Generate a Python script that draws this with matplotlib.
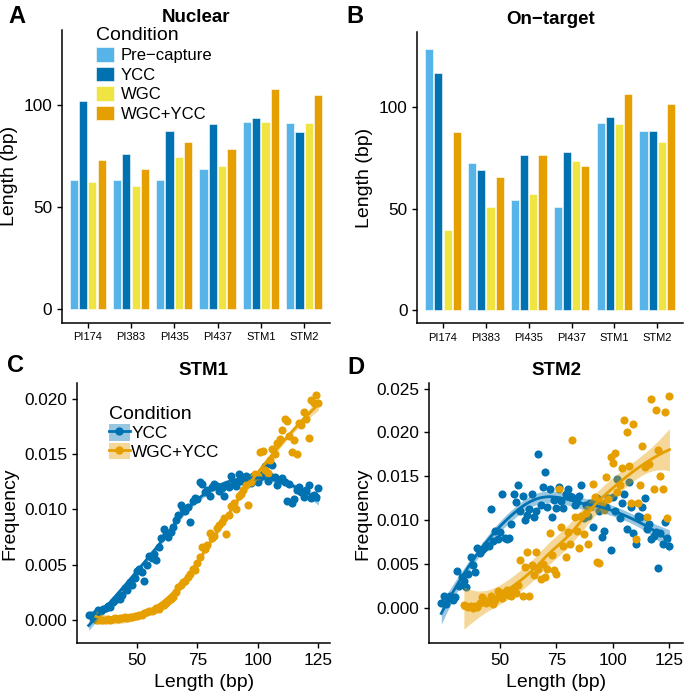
import numpy as np
import matplotlib
matplotlib.use('Agg')
import matplotlib.pyplot as plt
from matplotlib.patches import Patch
from matplotlib.lines import Line2D

plt.rcParams['font.family'] = ['Liberation Sans', 'DejaVu Sans']

# Bar panels (A, B): mean fragment length per sample and condition
samples = ['PI174', 'PI383', 'PI435', 'PI437', 'STM1', 'STM2']
conditions = ['Pre\u2212capture', 'YCC', 'WGC', 'WGC+YCC']
cond_colors = ['#56B4E9', '#0072B2', '#F0E442', '#E69F00']

nuclear_pre = [63.4, 63.4, 63.4, 68.8, 91.7, 91.2]
nuclear_ycc = [102.4, 76.1, 87.5, 91.1, 94.1, 87.2]
nuclear_wgc = [62.6, 60.7, 74.8, 70.2, 91.7, 91.2]
nuclear_wgc_ycc = [73.5, 68.8, 82.0, 78.5, 108.0, 105.2]

ontarget_pre = [128.9, 72.7, 54.2, 50.9, 92.2, 88.4]
ontarget_ycc = [117.0, 69.1, 76.5, 77.9, 95.2, 88.1]
ontarget_wgc = [39.3, 50.7, 57.4, 73.6, 91.9, 83.0]
ontarget_wgc_ycc = [87.6, 65.8, 76.7, 71.2, 106.6, 101.7]

# Length distributions (C, D): frequency per fragment length (x 1e-3)
stm1_ycc_len = list(range(30, 126))
stm1_ycc_freq = [
    0.5, 0.5, 0.2, 0.6, 0.9, 0.8, 1.0, 1.1, 1.3, 1.2,
    1.6, 1.8, 2.0, 1.9, 2.3, 2.9, 2.7, 3.4, 3.2, 3.8,
    4.4, 4.6, 4.3, 3.5, 5.0, 5.8, 5.6, 6.0, 5.4, 6.6,
    7.4, 8.2, 7.8, 7.5, 8.0, 8.4, 9.0, 9.5, 10.4, 10.0,
    9.9, 10.2, 8.9, 10.8, 11.0, 10.9, 12.5, 12.3, 11.6, 11.8,
    11.2, 12.0, 12.3, 12.1, 11.7, 11.9, 11.2, 12.2, 12.0, 13.0,
    12.4, 12.1, 13.2, 12.6, 12.9, 13.0, 12.7, 12.4, 13.0, 12.8,
    12.5, 12.9, 13.2, 13.9, 12.6, 13.0, 14.0, 12.9, 12.2, 12.7,
    12.8, 12.5, 10.8, 12.3, 10.6, 10.9, 11.8, 12.0, 11.6, 11.1,
    11.8, 12.2, 11.0, 11.3, 11.1, 11.9]

stm1_wgc_len = list(range(33, 126))
stm1_wgc_freq = [
    0.0, 0.0, 0.05, 0.0, 0.05, 0.1, 0.05, 0.1, 0.15, 0.1,
    0.2, 0.15, 0.25, 0.2, 0.3, 0.25, 0.4, 0.35, 0.5, 0.45,
    0.6, 0.7, 0.85, 0.8, 0.95, 1.1, 1.0, 1.3, 1.4, 1.5,
    1.7, 1.9, 2.1, 2.5, 3.0, 3.2, 3.4, 3.5, 3.9, 4.2,
    4.6, 4.5, 5.2, 5.7, 6.6, 6.4, 6.8, 7.9, 7.4, 7.6,
    8.3, 8.6, 8.9, 9.2, 7.8, 9.5, 10.3, 10.6, 10.0, 11.2,
    11.4, 11.8, 12.2, 10.4, 12.5, 12.8, 13.2, 13.0, 15.2, 15.3,
    13.6, 13.3, 14.5, 15.5, 15.0, 16.0, 16.4, 17.2, 18.2, 18.0,
    16.6, 15.2, 16.3, 15.0, 17.8, 17.6, 18.8, 18.2, 16.5, 19.9,
    19.6, 20.3, 19.6]

stm2_ycc_len = list(range(24, 126))
stm2_ycc_freq = [
    0.5, 1.4, 0.4, 1.0, 1.3, 0.9, 1.2, 4.2, 2.5, 3.5,
    3.1, 2.4, 3.9, 5.8, 4.9, 4.1, 6.8, 6.2, 6.6, 6.8,
    7.2, 7.0, 11.3, 7.6, 8.8, 7.9, 8.6, 13.0, 8.0, 7.8,
    8.0, 9.6, 13.0, 12.1, 14.0, 11.0, 12.8, 10.0, 10.6, 11.3,
    13.0, 10.4, 11.0, 17.5, 11.7, 13.8, 15.5, 11.5, 13.6, 10.4,
    12.3, 11.4, 13.8, 12.2, 11.4, 13.0, 13.5, 12.7, 12.6, 11.7,
    12.1, 12.8, 14.0, 10.2, 11.7, 10.5, 12.0, 9.2, 12.2, 12.5,
    11.0, 8.1, 8.8, 11.5, 12.5, 6.6, 12.6, 11.0, 14.7, 10.2,
    11.9, 13.0, 9.0, 14.3, 11.5, 8.5, 7.3, 10.5, 10.4, 11.5,
    12.5, 9.0, 9.6, 7.9, 8.2, 8.6, 4.5, 8.5, 7.3, 9.8,
    8.0, 7.1]

stm2_wgc_len = list(range(34, 126))
stm2_wgc_freq = [
    0.3, 0.2, 0.1, 0.2, 0.0, 0.2, 0.1, 0.6, 1.2, 0.9,
    0.6, 0.8, 1.3, 0.4, 0.9, 1.9, 1.6, 1.1, 1.8, 2.0,
    1.5, 1.4, 2.2, 1.7, 2.6, 5.4, 1.3, 4.7, 6.4, 1.4,
    4.9, 3.7, 6.4, 4.4, 3.3, 5.0, 3.5, 4.4, 8.5, 6.0,
    4.3, 3.8, 13.5, 9.2, 7.0, 5.8, 8.7, 7.3, 19.1, 10.4,
    8.8, 6.8, 10.5, 8.4, 10.8, 7.3, 11.5, 14.1, 12.6, 5.2,
    5.1, 12.0, 11.2, 14.9, 12.4, 17.2, 16.5, 17.6, 13.2, 14.0,
    15.9, 21.4, 20.0, 16.2, 12.0, 21.0, 7.8, 12.0, 14.0, 18.5,
    16.0, 10.4, 16.4, 23.8, 13.6, 22.6, 18.0, 15.0, 13.6, 22.3,
    10.2, 24.2]

YCC_COLOR = '#0072B2'
WGC_YCC_COLOR = '#E69F00'


def loess_rows(x, grid, span=0.75):
    """Local quadratic smoother weights (tricube), like R's loess default"""
    n = len(x)
    q = int(np.floor(n * span))
    rows = []
    for x0 in grid:
        d = np.abs(x - x0)
        h = np.sort(d)[q - 1]
        w = np.clip(1 - (d / h) ** 3, 0, None) ** 3
        X = np.column_stack([np.ones(n), x - x0, (x - x0) ** 2])
        XtW = X.T * w
        rows.append(np.linalg.solve(XtW @ X, XtW)[0])
    return np.array(rows)


def smooth_with_band(ax, x, y, color):
    x = np.asarray(x, dtype=float)
    y = np.asarray(y, dtype=float)
    L = loess_rows(x, x)
    resid = y - L @ y
    sigma = np.sqrt(np.sum(resid ** 2) / (len(x) - np.trace(L)))
    grid = np.linspace(x.min(), x.max(), 80)
    Lg = loess_rows(x, grid)
    fit = Lg @ y
    se = sigma * np.sqrt(np.sum(Lg ** 2, axis=1))
    ax.fill_between(grid, fit - 1.97 * se, fit + 1.97 * se,
                    color=color, alpha=0.4, linewidth=0, zorder=3)
    ax.plot(grid, fit, color=color, linewidth=2, zorder=4)


def bar_panel(ax, series, title):
    pos = np.arange(len(samples))
    offsets = [-1.5, -0.5, 0.5, 1.5]
    for vals, off, col, lab in zip(series, offsets, cond_colors, conditions):
        ax.bar(pos + off * 0.215, vals, width=0.19, color=col,
               edgecolor='white', linewidth=0.4, label=lab)
    ax.set_xticks(pos)
    ax.set_xticklabels(samples, fontsize=8)
    ax.set_xlim(-0.6, 5.6)
    ax.set_ylim(-6.5, 137)
    ax.set_yticks([0, 50, 100])
    ax.set_ylabel('Length (bp)', fontsize=14)
    ax.set_title(title, fontsize=13.5, fontweight='bold', pad=6)


def freq_panel(ax, ycc, wgc, title):
    for (lx, fy), col in zip([ycc, wgc], [YCC_COLOR, WGC_YCC_COLOR]):
        fy = np.asarray(fy) / 1000
        ax.scatter(lx, fy, s=34, color=col, linewidths=0, zorder=2)
        smooth_with_band(ax, lx, fy, col)
    ax.set_xticks([50, 75, 100, 125])
    ax.set_xlabel('Length (bp)', fontsize=14)
    ax.set_ylabel('Frequency', fontsize=14)
    ax.set_title(title, fontsize=13.5, fontweight='bold', pad=6)


def style(ax):
    for side in ['top', 'right']:
        ax.spines[side].set_visible(False)
    for side in ['left', 'bottom']:
        ax.spines[side].set_linewidth(1.1)
    ax.tick_params(length=3.5, width=1, labelsize=12.4, colors='black')


def main():
    fig = plt.figure(figsize=(6.85, 6.93), dpi=100)
    ax_a = fig.add_axes([0.0901, 0.5343, 0.3917, 0.4224])
    ax_b = fig.add_axes([0.6092, 0.5335, 0.3879, 0.4199])
    ax_c = fig.add_axes([0.1128, 0.0717, 0.3689, 0.3752])
    ax_d = fig.add_axes([0.6267, 0.0717, 0.3704, 0.3752])

    for ax in [ax_a, ax_b, ax_c, ax_d]:
        style(ax)

    bar_panel(ax_a, [nuclear_pre, nuclear_ycc, nuclear_wgc, nuclear_wgc_ycc],
              'Nuclear')
    bar_panel(ax_b, [ontarget_pre, ontarget_ycc, ontarget_wgc,
                     ontarget_wgc_ycc], 'On\u2212target')
    for ax in [ax_a, ax_b]:
        ax.tick_params(axis='x', labelsize=8)

    ax_a.legend(title='Condition', loc='upper left',
                bbox_to_anchor=(0.098, 1.04), frameon=False, fontsize=12,
                title_fontsize=14, handlelength=1.06, handleheight=0.95,
                handletextpad=0.4, labelspacing=0.22, borderpad=0,
                alignment='left')

    freq_panel(ax_c, (stm1_ycc_len, stm1_ycc_freq),
               (stm1_wgc_len, stm1_wgc_freq), 'STM1')
    ax_c.set_xlim(25.3, 129.8)
    ax_c.set_ylim(-0.0021, 0.0214)
    ax_c.set_yticks([0, 0.005, 0.01, 0.015, 0.02])
    ax_c.set_yticklabels(['0.000', '0.005', '0.010', '0.015', '0.020'])

    freq_panel(ax_d, (stm2_ycc_len, stm2_ycc_freq),
               (stm2_wgc_len, stm2_wgc_freq), 'STM2')
    ax_d.set_xlim(18.7, 131)
    ax_d.set_ylim(-0.00405, 0.0256)
    ax_d.set_yticks([0, 0.005, 0.01, 0.015, 0.02, 0.025])
    ax_d.set_yticklabels(['0.000', '0.005', '0.010', '0.015', '0.020',
                          '0.025'])

    # Legend with band + line + point keys
    handles = []
    for col in [YCC_COLOR, WGC_YCC_COLOR]:
        handles.append((Patch(facecolor=col, alpha=0.4, linewidth=0),
                        Line2D([], [], color=col, linewidth=2, marker='o',
                               markersize=5)))
    ax_c.legend(handles, ['YCC', 'WGC+YCC'], title='Condition',
                loc='upper left', bbox_to_anchor=(0.09, 0.946),
                frameon=False, fontsize=12.4, title_fontsize=14,
                handlelength=1.22, handleheight=1.1, handletextpad=0.1,
                labelspacing=0.08, borderpad=0, alignment='left')

    # Panel letters
    for lab, x, y in [('A', 0.012, 0.993), ('B', 0.505, 0.993),
                      ('C', 0.010, 0.489), ('D', 0.507, 0.487)]:
        fig.text(x, y, lab, fontsize=17, fontweight='bold', va='top')

    fig.savefig('out.png', dpi=100)


if __name__ == "__main__":
    main()
